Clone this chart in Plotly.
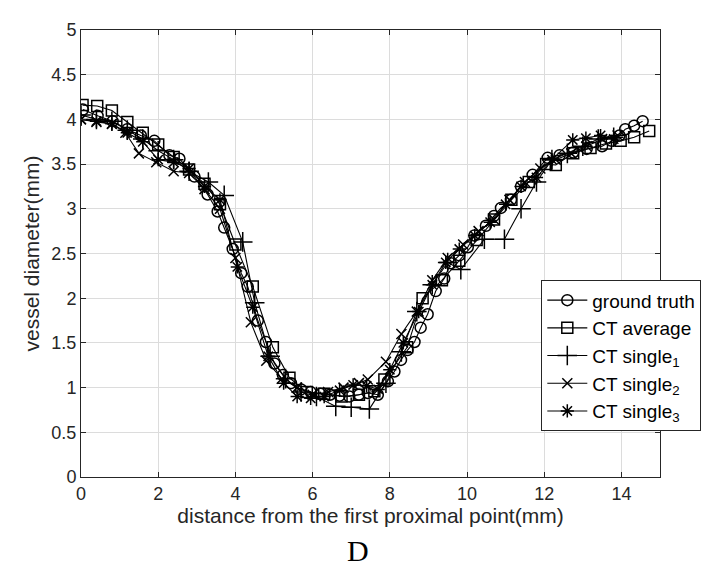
import plotly.graph_objects as go

# ---- data ----
gt_x = [0.05, 0.43, 0.82, 1.2, 1.55, 1.9, 2.29, 2.55, 2.94, 3.28, 3.54, 3.71, 3.93, 4.15, 4.32, 4.58, 4.79, 5.01,
        5.23, 5.44, 5.7, 5.95, 6.2, 6.45, 6.7, 6.95, 7.2, 7.43, 7.69, 7.95, 8.12, 8.29, 8.46, 8.64, 8.8, 8.98,
        9.19, 9.41, 9.58, 9.8, 10.02, 10.19, 10.49, 10.7, 10.88, 11.14, 11.4, 11.7, 12.09, 12.4, 12.75, 13.1,
        13.5, 13.75, 13.95, 14.1, 14.33, 14.55]
gt_y = [4.11, 4.04, 3.98, 3.89, 3.82, 3.76, 3.6, 3.56, 3.36, 3.16, 2.97, 2.79, 2.55, 2.28, 2.13, 1.75, 1.51, 1.27,
        1.14, 1.05, 0.98, 0.95, 0.93, 0.92, 0.91, 0.9, 0.92, 0.94, 0.92, 1.07, 1.18, 1.31, 1.42, 1.51, 1.67, 1.82,
        2.08, 2.22, 2.39, 2.48, 2.57, 2.7, 2.81, 2.92, 3.01, 3.1, 3.25, 3.38, 3.57, 3.6, 3.63, 3.67,
        3.7, 3.76, 3.82, 3.89, 3.93, 3.98]

avg_x = [0.04, 0.42, 0.8, 1.2, 1.6, 2.0, 2.4, 2.8, 3.2, 3.6, 4.0, 4.45, 4.97, 5.4, 5.85, 6.3, 6.75, 7.2, 7.6,
         7.86, 8.45, 8.85, 9.35, 9.8, 10.25, 10.7, 11.15, 11.6, 12.05, 12.3, 12.75, 13.2, 13.6, 13.98, 14.33, 14.72]
avg_y = [4.16, 4.15, 4.1, 3.97, 3.85, 3.72, 3.58, 3.44, 3.28, 3.05, 2.6, 2.13, 1.45, 1.11, 0.95, 0.93, 0.9, 0.92,
         0.96, 1.09, 1.45, 2.0, 2.2, 2.42, 2.65, 2.88, 3.1, 3.3, 3.5, 3.49, 3.62, 3.68, 3.73, 3.76, 3.8, 3.87]

s1_x = [0.0, 0.4, 0.8, 1.2, 1.6, 2.0, 2.4, 2.8, 3.3, 3.71, 4.19, 4.5, 4.9, 5.3, 5.7, 6.1, 6.6, 7.0, 7.47, 7.9,
        8.3, 8.7, 9.1, 9.5, 9.84, 10.45, 10.97, 11.4, 11.8, 12.2, 12.6, 13.0, 13.4, 13.8]
s1_y = [4.05, 4.0, 3.98, 3.88, 3.78, 3.65, 3.55, 3.42, 3.3, 3.15, 2.63, 1.95, 1.35, 1.1, 0.95, 0.9, 0.79, 0.78,
        0.76, 1.05, 1.4, 1.85, 2.15, 2.4, 2.32, 2.66, 2.66, 3.0, 3.3, 3.55, 3.62, 3.7, 3.78, 3.8]

s2_x = [0.0, 0.4, 0.8, 1.15, 1.5, 1.95, 2.4, 2.8, 3.2, 3.6, 4.0, 4.4, 4.8, 5.2, 5.6, 6.0, 6.4, 6.8, 7.2, 7.43,
        7.9, 8.3, 8.7, 9.1, 9.5, 9.9, 10.3, 10.7, 11.1, 11.5, 11.9, 12.3, 12.7, 13.1, 13.5, 13.9]
s2_y = [4.0, 3.97, 3.95, 3.85, 3.62, 3.52, 3.42, 3.4, 3.22, 3.0, 2.45, 1.73, 1.3, 1.1, 1.0, 0.92, 0.95, 1.0, 1.05,
        1.09, 1.29, 1.6, 1.85, 2.2, 2.45, 2.6, 2.75, 2.88, 3.1, 3.3, 3.45, 3.55, 3.62, 3.7, 3.78, 3.82]

s3_x = [0.0, 0.4, 0.8, 1.2, 1.6, 2.0, 2.4, 2.8, 3.2, 3.6, 4.05, 4.45, 4.85, 5.25, 5.6, 5.95, 6.3, 6.7, 7.05, 7.4,
        7.7, 8.0, 8.35, 8.75, 9.1, 9.45, 9.8, 10.2, 10.6, 11.0, 11.4, 11.8, 12.2, 12.74, 13.08, 13.46, 13.8]
s3_y = [4.0, 3.98, 3.95, 3.85, 3.75, 3.55, 3.52, 3.45, 3.25, 3.1, 2.35, 1.9, 1.35, 1.05, 0.9, 0.88, 0.9, 0.97,
        1.03, 1.02, 0.98, 1.2, 1.5, 1.85, 2.15, 2.4, 2.55, 2.7, 2.85, 3.05, 3.25, 3.35, 3.55, 3.77, 3.79, 3.82, 3.78]

x_ticks = [0, 2, 4, 6, 8, 10, 12, 14]
y_ticks = [0, 0.5, 1, 1.5, 2, 2.5, 3, 3.5, 4, 4.5, 5]
y_tick_text = ["0", "0.5", "1", "1.5", "2", "2.5", "3", "3.5", "4", "4.5", "5"]

series = [
    ("ground truth", gt_x, gt_y, "circle-open", 11),
    ("CT average", avg_x, avg_y, "square-open", 11),
    ("CT single<sub>1</sub>", s1_x, s1_y, "cross-thin-open", 14),
    ("CT single<sub>2</sub>", s2_x, s2_y, "x-thin-open", 10),
    ("CT single<sub>3</sub>", s3_x, s3_y, "asterisk-open", 11),
]

FONT = "Liberation Sans, Arial, Helvetica, sans-serif"
INK = "#262626"

fig = go.Figure()
for name, xs, ys, sym, size in series:
    fig.add_trace(go.Scatter(
        x=xs, y=ys, name=name, mode="lines+markers",
        line=dict(color="black", width=1.1),
        marker=dict(symbol=sym, size=size, color="black", line=dict(color="black", width=1.5)),
    ))

axis_common = dict(
    showline=True, linecolor=INK, linewidth=1, mirror="ticks",
    ticks="inside", ticklen=5, tickcolor=INK, tickwidth=1,
    showgrid=True, gridcolor="#dcdcdc", gridwidth=1, zeroline=False,
    tickfont=dict(family=FONT, size=18, color=INK),
)

fig.update_layout(
    width=711, height=571,
    margin=dict(l=73, r=59, t=14, b=102),
    paper_bgcolor="white", plot_bgcolor="white",
    font=dict(family=FONT, color=INK),
    showlegend=True,
    legend=dict(
        x=0.795, y=0.44, xanchor="left", yanchor="top",
        bgcolor="white", bordercolor=INK, borderwidth=1,
        font=dict(family=FONT, size=19, color="black"),
        itemwidth=40, tracegroupgap=0,
    ),
    xaxis=dict(range=[0, 15], tickvals=x_ticks,
               title=dict(text="distance from the first proximal point(mm)", standoff=5,
                          font=dict(family=FONT, size=21, color=INK)),
               **axis_common),
    yaxis=dict(range=[0, 5], tickvals=y_ticks, ticktext=y_tick_text,
               title=dict(text="vessel diameter(mm)", standoff=6,
                          font=dict(family=FONT, size=21, color=INK)),
               **axis_common),
    annotations=[dict(
        text="D", xref="paper", yref="paper", x=0.478, y=-0.122, xanchor="center", yanchor="top",
        showarrow=False, font=dict(family="Liberation Serif, Times New Roman, serif", size=30, color="black"),
    )],
)

fig.write_html("out.html")
